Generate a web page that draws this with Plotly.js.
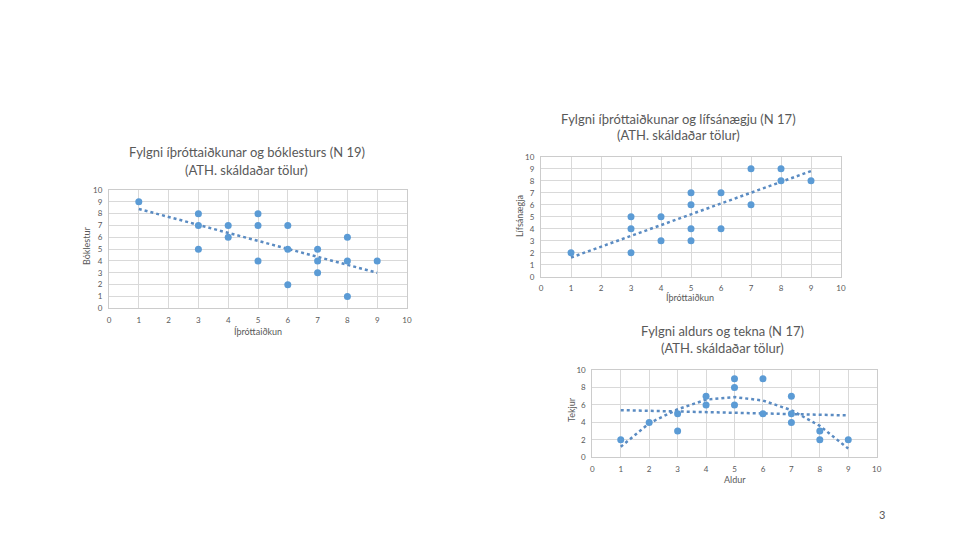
<!DOCTYPE html>
<html><head><meta charset="utf-8">
<script src="https://cdn.plot.ly/plotly-3.0.1.min.js"></script>
<style>html,body{margin:0;padding:0;background:#fff;}#c{width:960px;height:540px;}</style>
</head><body><div id="c"></div>
<script>
// Chart 1: Íþróttaiðkun vs Bóklestur (N 19)
const sport1 = [1,3,3,3,4,4,5,5,5,6,6,6,7,7,7,8,8,8,9];
const reading = [9,8,7,5,7,6,8,7,4,7,5,2,5,4,3,6,4,1,4];
const trend1X = [1,9];
const trend1Y = [8.4,3.0];
// Chart 2: Íþróttaiðkun vs Lífsánægja (N 17)
const sport2 = [1,3,3,3,4,4,5,5,5,5,6,6,7,7,8,8,9];
const satisfaction = [2,5,4,2,5,3,7,6,4,3,7,4,9,6,9,8,8];
const trend2X = [1,9];
const trend2Y = [1.6,8.8];
// Chart 3: Aldur vs Tekjur (N 17)
const age = [1,2,3,3,4,4,5,5,5,6,6,7,7,7,8,8,9];
const income = [2,4,5,3,7,6,9,8,6,9,5,7,5,4,3,2,2];
const trend3LinX = [1,9];
const trend3LinY = [5.4,4.8];
const trend3PolyX = [1,2,3,4,5,6,7,8,9];
const trend3PolyY = [1.2,3.9,5.5,6.6,6.9,6.5,5.4,3.6,1.0];

const ticks10 = [0,1,2,3,4,5,6,7,8,9,10];
const ticks10Even = [0,2,4,6,8,10];

const blue = '#5b9bd5';
const trendC = '#5a8bc2';
const txt = '#595959';
const font = 'Lato, "Open Sans", sans-serif';

function pts(x,y,xa,ya){return {x:x,y:y,xaxis:xa,yaxis:ya,type:'scatter',mode:'markers',marker:{color:blue,size:7},hoverinfo:'none'};}
function tr(x,y,xa,ya){return {x:x,y:y,xaxis:xa,yaxis:ya,type:'scatter',mode:'lines',line:{color:trendC,width:2.5,dash:'dot'},hoverinfo:'none'};}

const data = [
  tr(trend1X,trend1Y,'x','y'), pts(sport1,reading,'x','y'),
  tr(trend2X,trend2Y,'x2','y2'), pts(sport2,satisfaction,'x2','y2'),
  tr(trend3LinX,trend3LinY,'x3','y3'), tr(trend3PolyX,trend3PolyY,'x3','y3'), pts(age,income,'x3','y3')
];

function ax(dom, anchor, tv, len){
  return {domain:dom, anchor:anchor, range:[0,10], tickvals:tv, ticktext:tv.map(String),
    showgrid:true, gridcolor:'#d9d9d9', gridwidth:1, zeroline:false,
    showline:true, mirror:true, linecolor:'#cccccc', linewidth:1,
    ticks:'outside', ticklen:len, tickcolor:'rgba(0,0,0,0)',
    tickfont:{family:font,size:8,color:txt}, fixedrange:true};
}

const layout = {
  width:960, height:540, margin:{l:0,r:0,t:0,b:0}, showlegend:false,
  paper_bgcolor:'#fff', plot_bgcolor:'#fff',
  xaxis: ax([109/960,407/960],'y',ticks10,4),
  yaxis: ax([1-308.3/540,1-190/540],'x',ticks10,4),
  xaxis2: ax([541/960,841/960],'y2',ticks10,4),
  yaxis2: ax([1-276.7/540,1-156.7/540],'x2',ticks10,4),
  xaxis3: ax([592.3/960,876.7/960],'y3',ticks10,4),
  yaxis3: ax([1-457.3/540,1-370/540],'x3',ticks10Even,4),
  annotations: []
};
function ann(text,x,y,size,angle){
  layout.annotations.push({text:text,x:x/960,y:1-y/540,xref:'paper',yref:'paper',showarrow:false,
    xanchor:'center',yanchor:'middle',textangle:angle||0,font:{family:font,size:size,color:txt}});
}
ann('Fylgni íþróttaiðkunar og bóklesturs (N 19)',247,152,13);
ann('(ATH. skáldaðar tölur)',247,170,13);
ann('Íþróttaiðkun',258,331,9);
ann('Bóklestur',87,246,9,-90);

ann('Fylgni íþróttaiðkunar og lífsánægju (N 17)',678,119,13);
ann('(ATH. skáldaðar tölur)',678,135,13);
ann('Íþróttaiðkun',690,297,9);
ann('Lífsánægja',519,216,9,-90);

ann('Fylgni aldurs og tekna (N 17)',722,331,13);
ann('(ATH. skáldaðar tölur)',722,348,13);
ann('Aldur',735,479,9);
ann('Tekjur',571,410,9,-90);

ann('3',882,514,11);

Plotly.newPlot('c', data, layout, {staticPlot:true, displayModeBar:false});
</script></body></html>
